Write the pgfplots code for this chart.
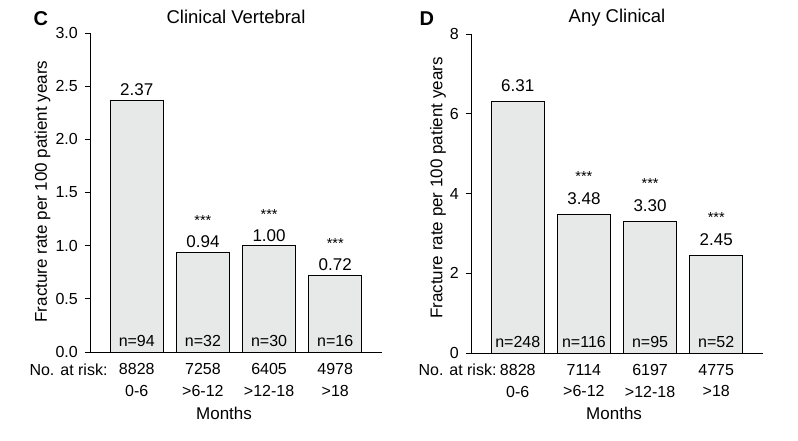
\documentclass[border=0pt]{standalone}
\usepackage{fontspec}
\setmainfont{Liberation Sans}
\usepackage{pgfplots}
\pgfplotsset{compat=1.18}
\definecolor{barfill}{RGB}{231,232,232}
\newcommand{\fsn}{\fontsize{16}{21.7}\selectfont}
\newcommand{\fsv}{\fontsize{17}{20}\selectfont}
\newcommand{\fss}{\fontsize{14.5}{17}\selectfont}
\pgfplotsset{
  /pgf/number format/assume math mode=true,
  panel/.style={
    scale only axis, width=292pt, height=319pt, anchor=south west,
    axis lines*=left, axis line style={line width=1pt},
    xmin=-0.707, xmax=3.707, ymin=0,
    xtick={0,1,2,3},
    tick align=outside, major tick length=5pt,
    major x tick style={draw=none},
    major y tick style={line width=1pt, black},
    xticklabel style={font=\fsn, align=center, anchor=north, inner sep=0pt, yshift=-6pt},
    yticklabel style={font=\fsn, anchor=east, inner sep=0pt, xshift=-7pt},
    ylabel style={font=\fontsize{17}{20}\selectfont, anchor=base, rotate=0},
    title style={font=\fontsize{18.5}{22}\selectfont, anchor=base, at={(axis description cs:0.5,1)}},
    clip=false,
  },
  bars/.style={ybar, bar width=53pt, bar shift=0pt, fill=barfill, draw=black, line width=0.9pt,
    point meta=explicit symbolic, nodes near coords,
    nodes near coords style={font=\fsv, anchor=base, inner sep=0pt, yshift=#1}},
  stars/.style={draw=none, mark=none, point meta=explicit symbolic, nodes near coords,
    nodes near coords style={font=\fss, anchor=base, inner sep=0pt, yshift=#1}},
  nlab/.style={draw=none, mark=none, point meta=explicit symbolic, nodes near coords,
    nodes near coords style={font=\fsn, anchor=base, inner sep=0pt, yshift=5.3pt}},
}
\begin{document}
\begin{tikzpicture}
\path[use as bounding box] (0,0) rectangle (798pt,440pt);
% Panel C
\begin{axis}[panel, at={(90pt,88pt)}, ymax=3,
  ytick={0,0.5,1,1.5,2,2.5,3},
  yticklabel={\pgfmathprintnumber[fixed,fixed zerofill,precision=1]{\tick}},
  xticklabels={{8828\\0-6},{7258\\>6-12},{6405\\>12-18},{4978\\>18}},
  ylabel={Fracture rate per 100 patient years},
  ylabel style={at={(axis description cs:-0.148,0.503)}},
  title={Clinical Vertebral},
  title style={yshift=3.7pt},
]
\addplot[bars=4.5pt] coordinates {(0,2.37)[2.37] (1,0.94)[0.94] (2,1.00)[1.00] (3,0.72)[0.72]};
\addplot[stars=26.5pt] coordinates {(1,0.94)[***] (2,1.00)[***] (3,0.72)[***]};
\addplot[nlab] coordinates {(0,0)[n=94] (1,0)[n=32] (2,0)[n=30] (3,0)[n=16]};
\node[font=\fsn, anchor=base east, inner sep=0pt, yshift=-23pt] at (axis description cs:0.0606,0) {No. at risk:};
\node[font=\fontsize{17}{20}\selectfont, anchor=base, inner sep=0pt, yshift=-67.3pt] at (axis description cs:0.459,0) {Months};
\node[font=\bfseries\fontsize{20}{24}\selectfont, anchor=base, inner sep=0pt, yshift=8pt] at (axis description cs:-0.168,1) {C};
\end{axis}
% Panel D
\begin{axis}[panel, at={(471pt,87pt)}, ymax=8,
  ytick={0,2,4,6,8},
  xticklabels={{8828\\0-6},{7114\\>6-12},{6197\\>12-18},{4775\\>18}},
  ylabel={Fracture rate per 100 patient years},
  ylabel style={at={(axis description cs:-0.098,0.517)}},
  title={Any Clinical},
  title style={yshift=5.5pt},
]
\addplot[bars=9.5pt] coordinates {(0,6.31)[6.31] (1,3.48)[3.48] (2,3.30)[3.30] (3,2.45)[2.45]};
\addplot[stars=33pt] coordinates {(1,3.48)[***] (2,3.30)[***] (3,2.45)[***]};
\addplot[nlab] coordinates {(0,0)[n=248] (1,0)[n=116] (2,0)[n=95] (3,0)[n=52]};
\node[font=\fsn, anchor=base east, inner sep=0pt, yshift=-22pt] at (axis description cs:0.088,0) {No. at risk:};
\node[font=\fontsize{17}{20}\selectfont, anchor=base, inner sep=0pt, yshift=-66.3pt] at (axis description cs:0.49,0) {Months};
\node[font=\bfseries\fontsize{20}{24}\selectfont, anchor=base, inner sep=0pt, yshift=8.3pt] at (axis description cs:-0.151,1) {D};
\end{axis}
\end{tikzpicture}
\end{document}
